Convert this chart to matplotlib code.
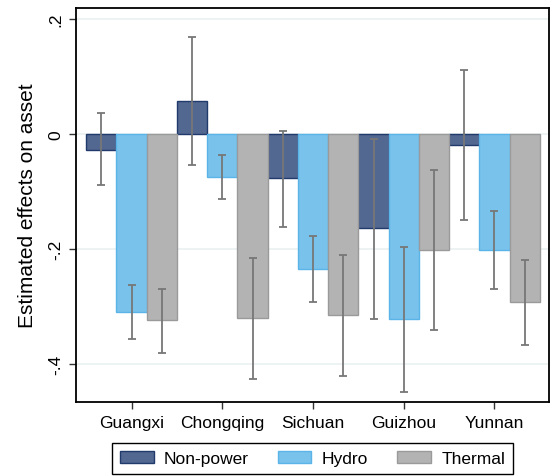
import numpy as np
import matplotlib.pyplot as plt

plt.rcParams['font.family'] = ['Liberation Sans', 'DejaVu Sans']

provinces = ['Guangxi', 'Chongqing', 'Sichuan', 'Guizhou', 'Yunnan']
series = ['Non-power', 'Hydro', 'Thermal']

# point estimates
nonpower = [-0.027, 0.057, -0.077, -0.164, -0.019]
hydro = [-0.310, -0.075, -0.234, -0.322, -0.201]
thermal = [-0.324, -0.320, -0.315, -0.202, -0.292]

# confidence intervals
nonpower_lo = [-0.089, -0.053, -0.161, -0.322, -0.150]
nonpower_hi = [0.037, 0.168, 0.005, -0.008, 0.111]
hydro_lo = [-0.357, -0.113, -0.292, -0.448, -0.269]
hydro_hi = [-0.263, -0.037, -0.177, -0.196, -0.133]
thermal_lo = [-0.380, -0.426, -0.420, -0.340, -0.366]
thermal_hi = [-0.270, -0.215, -0.210, -0.063, -0.219]

values = [nonpower, hydro, thermal]
lows = [nonpower_lo, hydro_lo, thermal_lo]
highs = [nonpower_hi, hydro_hi, thermal_hi]
fills = ['#536891', '#79c2ec', '#b3b3b3']
edges = ['#1f3a6b', '#5ab4e8', '#9a9a9a']

fig = plt.figure(figsize=(5.5, 4.77), dpi=100)
ax = fig.add_axes([0.138, 0.155, 0.86, 0.826])

x = np.arange(len(provinces))
w = 1 / 3
for i in range(3):
    pos = x + (i - 1) * w
    v = np.array(values[i])
    ax.bar(pos, v, width=w, color=fills[i], edgecolor=edges[i], linewidth=1,
           label=series[i], zorder=2)
    lo = np.array(lows[i])
    hi = np.array(highs[i])
    ax.errorbar(pos, (lo + hi) / 2, yerr=(hi - lo) / 2, fmt='none',
                ecolor='#777777', elinewidth=1.3, capsize=3, capthick=1.3, zorder=3)

ax.set_xlim(-0.614, 4.60)
ax.set_ylim(-0.466, 0.219)
ax.set_xticks(x)
ax.set_xticklabels(provinces, fontsize=12.5)
ax.set_yticks([0.2, 0, -0.2, -0.4])
ax.set_yticklabels(['.2', '0', '-.2', '-.4'], rotation=90, va='center', fontsize=12.5)
ax.tick_params(axis='both', length=5, width=1, color='#333333', pad=4)
ax.yaxis.grid(True, color='#eaf0f0', linewidth=1.2, zorder=0)
ax.set_axisbelow(True)
ax.set_ylabel('Estimated effects on asset', fontsize=15, labelpad=8)
for s in ax.spines.values():
    s.set_color('black')
    s.set_linewidth(1.3)

fig.legend(loc='center', bbox_to_anchor=(0.568, 0.037), ncol=3, fontsize=12.5,
           frameon=True, fancybox=False, edgecolor='black', framealpha=1,
           handlelength=1.95, handleheight=0.7, handletextpad=0.6,
           columnspacing=1.65, borderpad=0.45, borderaxespad=0)

fig.savefig('out.png', dpi=100)
